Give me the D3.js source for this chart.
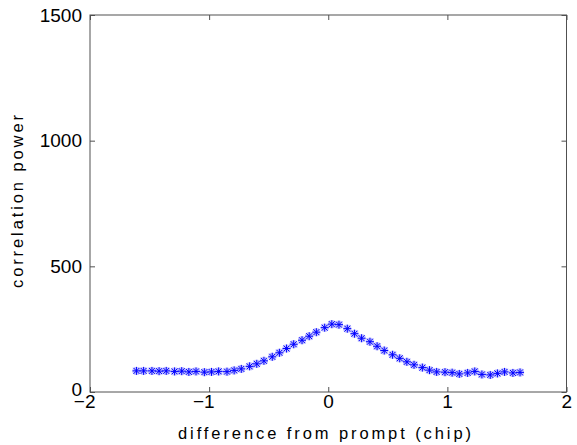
<!DOCTYPE html>
<html>
<head>
<meta charset="utf-8">
<script src="https://cdn.jsdelivr.net/npm/d3@7"></script>
<style>
  body { margin: 0; background: #fff; }
  text { font-family: "Liberation Sans", Arial, sans-serif; fill: #000; }
</style>
</head>
<body>
<svg id="chart"></svg>
<script>
const width = 577;
const height = 445;
const margin = { top: 15, right: 10.5, bottom: 53, left: 90 };

// difference from prompt (chip) -> correlation power
const offsets = [-1.61, -1.55, -1.48, -1.42, -1.36, -1.29, -1.23, -1.17, -1.11, -1.04,
  -0.98, -0.92, -0.85, -0.79, -0.73, -0.66, -0.60, -0.54, -0.47, -0.41,
  -0.35, -0.29, -0.22, -0.16, -0.10, -0.03, 0.03, 0.09, 0.16, 0.22,
  0.28, 0.35, 0.41, 0.47, 0.54, 0.60, 0.66, 0.72, 0.79, 0.85,
  0.91, 0.98, 1.04, 1.10, 1.17, 1.23, 1.29, 1.36, 1.42, 1.48,
  1.55, 1.61];
const power = [84, 84, 84, 83, 84, 82, 83, 80, 82, 79,
  80, 82, 81, 86, 92, 102, 112, 124, 140, 156,
  173, 190, 206, 222, 238, 256, 270, 268, 252, 232,
  214, 200, 182, 165, 148, 134, 120, 108, 97, 87,
  80, 79, 77, 72, 76, 82, 70, 68, 74, 80,
  76, 78];

const xTicks = [-2, -1, 0, 1, 2];
const yTicks = [0, 500, 1000, 1500];
const xLabel = "difference from prompt (chip)";
const yLabel = "correlation power";

const svg = d3.select("#chart").attr("width", width).attr("height", height);

const x = d3.scaleLinear().domain([-2, 2]).range([margin.left, width - margin.right]);
const y = d3.scaleLinear().domain([0, 1500]).range([height - margin.bottom, margin.top]);

const axisColor = "#505050";
const fmt = d3.format("d");

// box
svg.append("rect")
  .attr("x", x(-2)).attr("y", y(1500))
  .attr("width", x(2) - x(-2)).attr("height", y(0) - y(1500))
  .attr("fill", "none").attr("stroke", axisColor).attr("stroke-width", 1);

function styleAxis(g) {
  g.select(".domain").remove();
  g.selectAll(".tick line").attr("stroke", axisColor);
  g.selectAll(".tick text").attr("fill", "#000").style("font-size", "19px");
}

// bottom axis, ticks inside
const gx = svg.append("g")
  .attr("transform", `translate(0,${y(0)})`)
  .call(d3.axisBottom(x).tickValues(xTicks).tickFormat(fmt).tickSize(-5).tickPadding(2))
  .call(styleAxis);
gx.selectAll(".tick text").attr("text-anchor", "end").attr("x", 5);

// top mirror ticks
svg.append("g")
  .attr("transform", `translate(0,${y(1500)})`)
  .call(d3.axisTop(x).tickValues(xTicks).tickSize(-5).tickFormat(""))
  .call(styleAxis);

// left axis
const gy = svg.append("g")
  .attr("transform", `translate(${x(-2)},0)`)
  .call(d3.axisLeft(y).tickValues(yTicks).tickFormat(fmt).tickSize(-5).tickPadding(8))
  .call(styleAxis);
// lift the "0" a touch so it clears the x tick label below it
gy.selectAll(".tick text").filter(d => d === 0).attr("dy", "0.2em");

// right mirror ticks
svg.append("g")
  .attr("transform", `translate(${x(2)},0)`)
  .call(d3.axisRight(y).tickValues(yTicks).tickSize(-5).tickFormat(""))
  .call(styleAxis);

// asterisk markers
const pts = offsets.map((d, i) => [x(d), y(power[i])]);
function star(px, py) {
  const a = 4, b = 3;
  return `M${px},${py - a}V${py + a}M${px - a},${py}H${px + a}` +
    `M${px - b},${py - b}L${px + b},${py + b}M${px - b},${py + b}L${px + b},${py - b}`;
}
const marks = svg.append("g");
marks.selectAll("path.halo").data(pts).join("path")
  .attr("class", "halo")
  .attr("d", d => star(d[0], d[1]))
  .attr("fill", "none").attr("stroke", "#7c7cff").attr("stroke-opacity", 0.45)
  .attr("stroke-width", 3);
marks.selectAll("path.mk").data(pts).join("path")
  .attr("class", "mk")
  .attr("d", d => star(d[0], d[1]))
  .attr("fill", "none").attr("stroke", "#0000ff").attr("stroke-width", 1);

// axis labels
svg.append("text")
  .attr("x", 324.5).attr("y", 438.5)
  .attr("text-anchor", "middle")
  .attr("textLength", 293)
  .style("font-size", "16.5px")
  .text(xLabel);

svg.append("text")
  .attr("transform", "translate(23,201.5) rotate(-90)")
  .attr("text-anchor", "middle")
  .attr("textLength", 173)
  .style("font-size", "16.5px")
  .text(yLabel);
</script>
</body>
</html>
